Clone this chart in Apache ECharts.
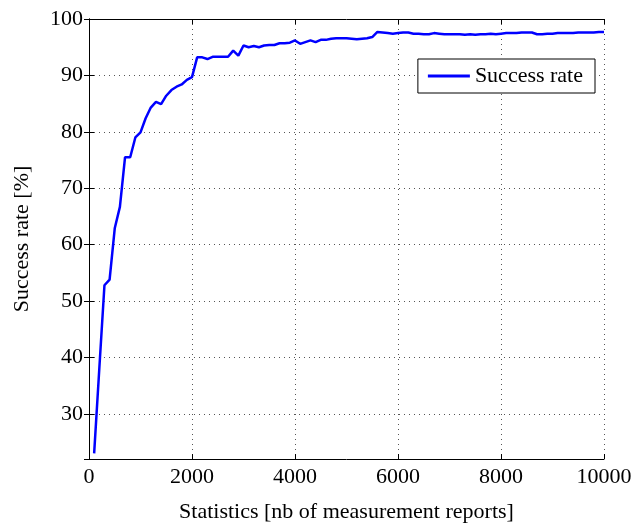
<!DOCTYPE html>
<html>
<head>
<meta charset="utf-8">
<script src="https://cdn.jsdelivr.net/npm/echarts@6/dist/echarts.min.js"></script>
<style>html,body{margin:0;padding:0;background:#fff}#c{width:636px;height:523px}</style>
</head>
<body>
<div id="c"></div>
<script>
const xValues = [100,200,300,400,500,600,700,800,900,1000,1100,1200,1300,1400,1500,1600,1700,1800,1900,2000,
2100,2200,2300,2400,2500,2600,2700,2800,2900,3000,3100,3200,3300,3400,3500,3600,3700,3800,3900,4000,
4100,4200,4300,4400,4500,4600,4700,4800,4900,5000,5100,5200,5300,5400,5500,5600,5700,5800,5900,6000,
6100,6200,6300,6400,6500,6600,6700,6800,6900,7000,7100,7200,7300,7400,7500,7600,7700,7800,7900,8000,
8100,8200,8300,8400,8500,8600,8700,8800,8900,9000,9100,9200,9300,9400,9500,9600,9700,9800,9900,10000];
const successRate = [23.0,38.0,52.8,53.8,62.9,66.7,75.5,75.5,79.0,79.9,82.4,84.3,85.3,84.9,86.4,87.4,88.0,88.4,89.2,89.7,
93.2,93.2,92.9,93.3,93.3,93.3,93.3,94.4,93.5,95.3,95.0,95.2,95.0,95.3,95.4,95.4,95.7,95.7,95.8,96.2,
95.6,95.9,96.2,95.9,96.3,96.3,96.5,96.6,96.6,96.6,96.5,96.4,96.5,96.6,96.8,97.7,97.6,97.5,97.4,97.5,
97.6,97.6,97.4,97.4,97.3,97.3,97.5,97.4,97.3,97.3,97.3,97.3,97.2,97.3,97.2,97.3,97.3,97.4,97.3,97.4,
97.5,97.5,97.5,97.6,97.6,97.6,97.3,97.3,97.4,97.4,97.5,97.5,97.5,97.5,97.6,97.6,97.6,97.6,97.7,97.7];
const seriesName = 'Success rate';
const xTitle = 'Statistics [nb of measurement reports]';
const yTitle = 'Success rate [%]';

const font = 'Liberation Serif';
const fs = 22;
const chart = echarts.init(document.getElementById('c'));
const data = xValues.map((x, i) => [x, successRate[i]]);
const axisLineStyle = {show: true, lineStyle: {color: '#000', width: 1}};
const gridLine = {show: true, lineStyle: {color: '#555', type: [1, 4], width: 1}};
const tick = {show: true, inside: true, length: 5, lineStyle: {color: '#000'}};
chart.setOption({
  animation: false,
  backgroundColor: '#fff',
  textStyle: {fontFamily: font},
  grid: {left: 89, right: 32, top: 19, bottom: 64, containLabel: false, outerBoundsMode: 'none'},
  legend: {
    show: true,
    right: 41, top: 59,
    itemWidth: 42, itemHeight: 3, itemGap: 6,
    padding: [6, 12, 6, 10],
    borderColor: '#000', borderWidth: 1, backgroundColor: '#fff',
    textStyle: {fontFamily: font, fontSize: fs, color: '#000', padding: [0, 0, 0, 0]},
    icon: 'rect',
    data: [{name: seriesName}]
  },
  xAxis: [{
    type: 'value', min: 0, max: 10000, interval: 2000,
    name: xTitle, nameLocation: 'middle', nameGap: 42,
    nameTextStyle: {fontFamily: font, fontSize: fs, color: '#000', verticalAlign: 'top'},
    axisLine: axisLineStyle,
    axisTick: tick,
    axisLabel: {fontFamily: font, fontSize: fs, color: '#000', margin: 7, formatter: v => String(v)},
    splitLine: gridLine
  }, {
    type: 'value', min: 0, max: 10000, interval: 2000, position: 'top',
    axisLine: axisLineStyle, axisTick: tick,
    axisLabel: {show: false}, splitLine: {show: false}
  }],
  yAxis: [{
    type: 'value', min: 22, max: 100, splitNumber: 8,
    name: yTitle, nameLocation: 'middle', nameGap: 56,
    nameTextStyle: {fontFamily: font, fontSize: fs, color: '#000'},
    axisLine: axisLineStyle,
    axisTick: tick,
    axisLabel: {fontFamily: font, fontSize: fs, color: '#000', margin: 6, showMinLabel: false},
    splitLine: gridLine
  }, {
    type: 'value', min: 22, max: 100, splitNumber: 8, position: 'right',
    axisLine: axisLineStyle, axisTick: tick,
    axisLabel: {show: false}, splitLine: {show: false}
  }],
  series: [{
    name: seriesName, type: 'line', data: data,
    showSymbol: false, symbol: 'none',
    lineStyle: {color: '#0000ff', width: 2.5},
    itemStyle: {color: '#0000ff'}
  }]
});
</script>
</body>
</html>
